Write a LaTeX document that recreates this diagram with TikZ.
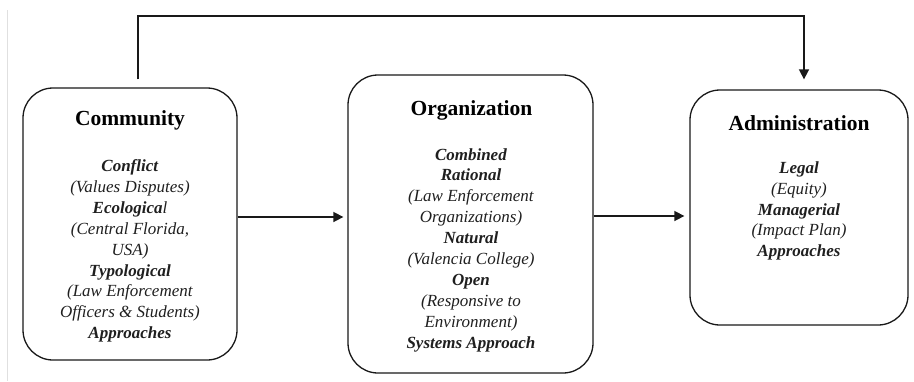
\documentclass[tikz,border=0pt]{standalone}
\usepackage{fontspec}
\setmainfont{Liberation Serif}
\usetikzlibrary{arrows.meta,calc}

\begin{document}
\begin{tikzpicture}[x=1pt,y=-1pt,
  panel/.style={draw=black!90, line width=1.3pt, rounded corners=30pt, inner sep=0pt},
  heading/.style={font=\fontsize{21.5}{24}\selectfont\bfseries, inner sep=0pt},
  body/.style={align=center, inner sep=0pt, text=black!88,
               font=\fontsize{17}{20.9}\selectfont},
  link/.style={draw=black!90, line width=1.6pt, -{Triangle[length=10pt,width=10pt]}},
  plain/.style={draw=black!90, line width=1.6pt}
]
\useasboundingbox (0,0) rectangle (914,381);

% page edge
\draw[black!12, line width=0.8pt] (7,10) -- (7,381);

% the three panels
\node[panel, minimum width=214pt, minimum height=272pt] (comm) at (130,224) {};
\node[panel, minimum width=245pt, minimum height=298pt] (org)  at (470.5,224) {};
\node[panel, minimum width=218pt, minimum height=235pt] (adm)  at (799,207.5) {};

% headings
\node[heading] (commT) at (130,120) {Community};
\node[heading] (orgT)  at (471.5,110) {Organization};
\node[heading] (admT)  at (799,123) {Administration};

% contents
\node[body] (commB) at (130,251) {%
  \textbf{\textit{Conflict}}\\
  \textit{(Values Disputes)}\\
  \textbf{\textit{Ecologica}}\textit{l}\\
  \textit{(Central Florida,}\\
  \textit{USA)}\\
  \textbf{\textit{Typological}}\\
  \textit{(Law Enforcement}\\
  \textit{Officers \& Students)}\\
  \textbf{\textit{Approaches}}};

\node[body] (orgB) at (471,250) {%
  \textbf{\textit{Combined}}\\
  \textbf{\textit{Rational}}\\
  \textit{(Law Enforcement}\\
  \textit{Organizations)}\\
  \textbf{\textit{Natural}}\\
  \textit{(Valencia College)}\\
  \textbf{\textit{Open}}\\
  \textit{(Responsive to}\\
  \textit{Environment)}\\
  \textbf{\textit{Systems Approach}}};

\node[body] (admB) at (799,211) {%
  \textbf{\textit{Legal}}\\
  \textit{(Equity)}\\
  \textbf{\textit{Managerial}}\\
  \textit{(Impact Plan)}\\
  \textbf{\textit{Approaches}}};

% forward connectors
\draw[link, shorten >=4pt] ($(comm.east)+(0,-7)$) -- ($(org.west)+(0,-7)$);
\draw[link, shorten >=5pt] ($(org.east)+(0,-8)$) -- ($(adm.west)+(0,8.5)$);

% feedback loop over the top
\coordinate (up1) at (138,16);
\coordinate (up2) at (804,16);
\draw[plain] ($(comm.north)+(8,-8)$) -- (up1) -- (up2) -- ($(adm.north)+(5,-12)$);
\draw[link] ($(adm.north)+(5,-22)$) -- ($(adm.north)+(5,-10)$);
\end{tikzpicture}
\end{document}
